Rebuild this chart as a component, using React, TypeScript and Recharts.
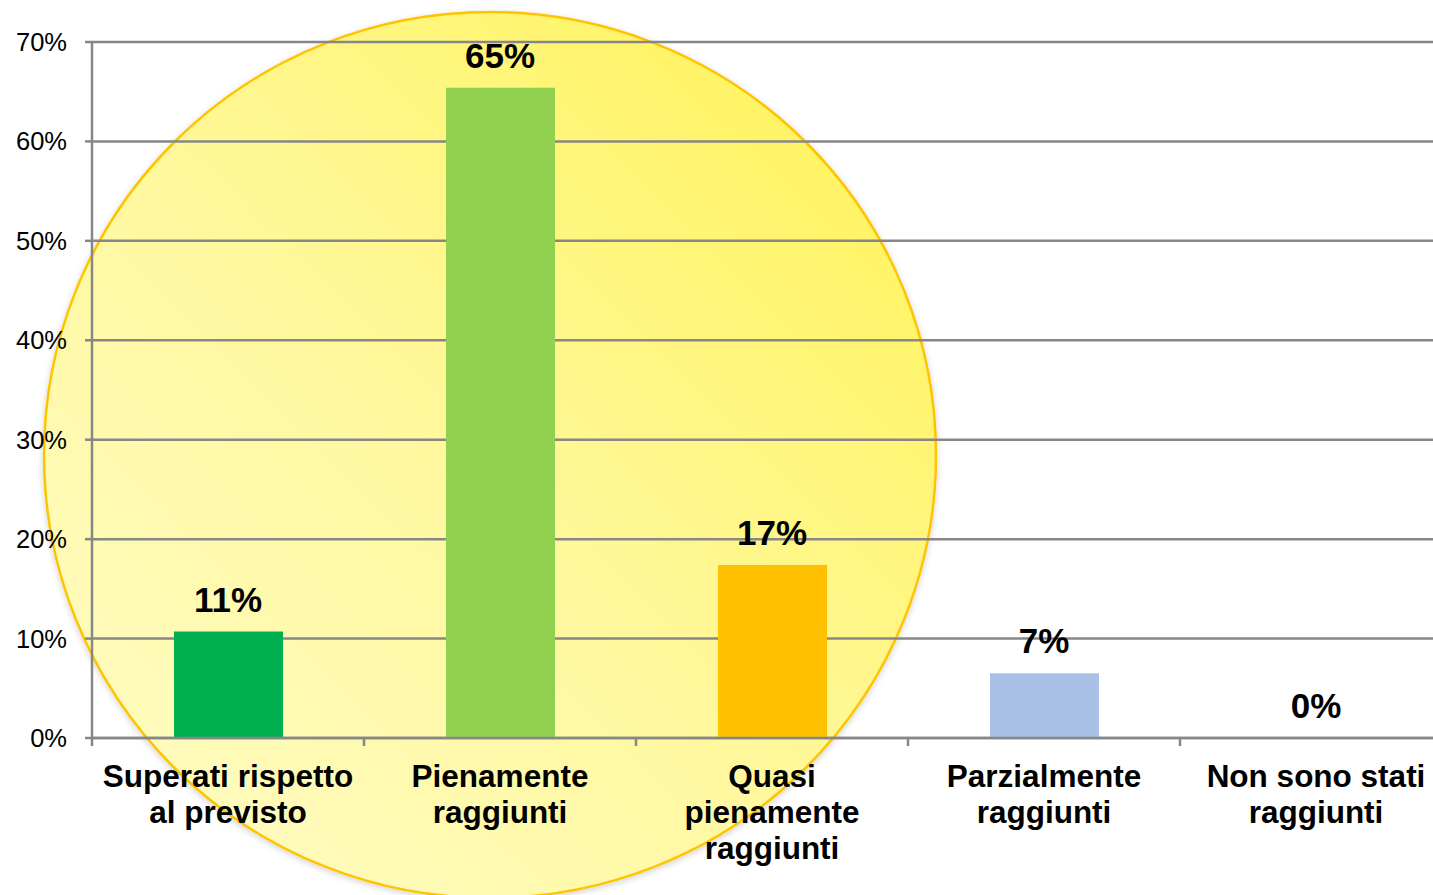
import React from 'react'
import { ComposedChart, Bar, Line, XAxis, YAxis, CartesianGrid, Cell, LabelList } from 'recharts'

const categories = [
  'Superati rispetto\nal previsto',
  'Pienamente\nraggiunti',
  'Quasi\npienamente\nraggiunti',
  'Parzialmente\nraggiunti',
  'Non sono stati\nraggiunti',
]
const values = [10.7, 65.4, 17.4, 6.5, 0]
const barColors = ['#00B050', '#92D050', '#FFC000', '#A9C1E6', '#A9C1E6']
const yTicks = [0, 10, 20, 30, 40, 50, 60, 70]

const data = categories.map((name, i) => ({ name, value: values[i], idx: i + 0.5 }))

const FONT = '"Liberation Sans", Arial, sans-serif'
const GRID = '#878787'

const CategoryTick = ({ x, y, payload }: any) => {
  const lines = String(payload.value).split('\n')
  return (
    <text x={x} y={y + 40} textAnchor="middle" fontFamily={FONT} fontWeight="bold" fontSize={31.5} fill="#000">
      {lines.map((l, i) => (
        <tspan key={i} x={x} dy={i === 0 ? 0 : 36}>{l}</tspan>
      ))}
    </text>
  )
}

const NoLabel = () => <g />

export default function App() {
  return (
    <div style={{ position: 'absolute', left: 0, top: 0, width: 1433, height: 895, overflow: 'hidden', background: '#fff' }}>
      <svg width={1433} height={895} style={{ position: 'absolute', left: 0, top: 0 }}>
        <defs>
          <linearGradient id="sun" x1="0" y1="1" x2="1" y2="0">
            <stop offset="0%" stopColor="#FFFCC8" />
            <stop offset="45%" stopColor="#FFF8A0" />
            <stop offset="100%" stopColor="#FFF250" />
          </linearGradient>
          <filter id="sh" x="-10%" y="-10%" width="120%" height="120%">
            <feDropShadow dx="0" dy="2" stdDeviation="3" floodColor="#000" floodOpacity="0.18" />
          </filter>
        </defs>
        <ellipse cx={490} cy={455} rx={446} ry={443} fill="url(#sun)" stroke="#FFC400" strokeWidth={2.5} filter="url(#sh)" />
      </svg>
      <div style={{ position: 'absolute', left: 0, top: 0 }}>
        <ComposedChart width={1460} height={895} data={data} margin={{ top: 42, right: 8, bottom: 0, left: 0 }}>
          <CartesianGrid vertical={false} stroke={GRID} strokeWidth={2.5} />
          <XAxis
            xAxisId={0}
            type="number"
            dataKey="idx"
            domain={[0, 5]}
            ticks={[0, 1, 2, 3, 4, 5]}
            height={1}
            tick={<NoLabel />}
            tickSize={8}
            tickLine={{ stroke: GRID, strokeWidth: 2.5 }}
            axisLine={{ stroke: GRID, strokeWidth: 2.5 }}
          />
          <XAxis
            xAxisId="cat"
            dataKey="name"
            height={156}
            interval={0}
            tick={<CategoryTick />}
            tickLine={false}
            axisLine={false}
          />
          <YAxis
            width={92}
            domain={[0, 70]}
            ticks={yTicks}
            tickFormatter={(v: number) => `${v}%`}
            tick={{ fontFamily: FONT, fontSize: 25.5, fill: '#000' }}
            tickSize={7}
            tickMargin={18}
            tickLine={{ stroke: GRID, strokeWidth: 2.5 }}
            axisLine={{ stroke: GRID, strokeWidth: 2.5 }}
          />
          <Bar xAxisId="cat" dataKey="value" barSize={109} isAnimationActive={false}>
            {data.map((_, i) => (
              <Cell key={i} fill={barColors[i]} />
            ))}
          </Bar>
          <Line xAxisId={0} dataKey="value" stroke="none" dot={false} activeDot={false} isAnimationActive={false}>
            <LabelList
              dataKey="value"
              position="top"
              offset={20}
              formatter={(v: any) => `${Math.round(Number(v))}%`}
              style={{ fontFamily: FONT, fontWeight: 'bold', fontSize: 35, fill: '#000' }}
            />
          </Line>
        </ComposedChart>
      </div>
    </div>
  )
}
